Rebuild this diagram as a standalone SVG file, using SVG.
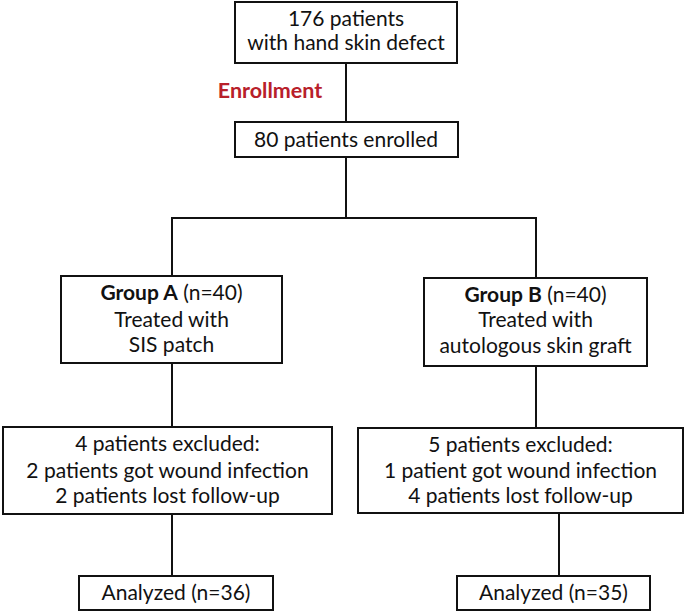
<svg xmlns="http://www.w3.org/2000/svg" width="685" height="612" viewBox="0 0 685 612">
<style>
.box{fill:#fff;stroke:#111;stroke-width:2}
.t{font-family:Lato,"Open Sans","Liberation Sans",sans-serif;font-size:21px;fill:#111;text-anchor:middle}
.b{font-weight:bold}
.red{font-family:Lato,"Open Sans","Liberation Sans",sans-serif;font-size:21.5px;font-weight:bold;fill:#B8202A;text-anchor:middle}
.c{stroke:#111;stroke-width:2;fill:none}
</style>
<rect width="685" height="612" fill="#fff"/>
<g id="connectors">
<path class="c" d="M346,63V122"/>
<path class="c" d="M346,157V218"/>
<path class="c" d="M172,218H536"/>
<path class="c" d="M172,217V276"/>
<path class="c" d="M536,217V278"/>
<path class="c" d="M172,363V427"/>
<path class="c" d="M536,366V428"/>
<path class="c" d="M172,514V576"/>
<path class="c" d="M559,513V576"/>
</g>
<g id="screened">
<rect class="box" x="235" y="2" width="222" height="61"/>
<text class="t" x="346" y="26">176 patients</text>
<text class="t" x="346" y="50">with hand skin defect</text>
</g>
<g id="enrollment-label">
<text class="red" x="270" y="98">Enrollment</text>
</g>
<g id="enrolled">
<rect class="box" x="235" y="122" width="223" height="35"/>
<text class="t" x="346" y="147">80 patients enrolled</text>
</g>
<g id="groupA">
<rect class="box" x="61" y="276" width="221" height="87"/>
<text class="t" x="171.5" y="300"><tspan class="b">Group A</tspan> (n=40)</text>
<text class="t" x="171.5" y="327">Treated with</text>
<text class="t" x="171.5" y="352">SIS patch</text>
</g>
<g id="groupB">
<rect class="box" x="424" y="278" width="223" height="88"/>
<text class="t" x="535.5" y="302"><tspan class="b">Group B</tspan> (n=40)</text>
<text class="t" x="535.5" y="327">Treated with</text>
<text class="t" x="535.5" y="353">autologous skin graft</text>
</g>
<g id="excludedA">
<rect class="box" x="3" y="427" width="329" height="87"/>
<text class="t" x="167.5" y="451">4 patients excluded:</text>
<text class="t" x="167.5" y="478">2 patients got wound infection</text>
<text class="t" x="167.5" y="503">2 patients lost follow-up</text>
</g>
<g id="excludedB">
<rect class="box" x="358" y="428" width="325" height="85"/>
<text class="t" x="520.5" y="452">5 patients excluded:</text>
<text class="t" x="520.5" y="478">1 patient got wound infection</text>
<text class="t" x="520.5" y="503">4 patients lost follow-up</text>
</g>
<g id="analyzedA">
<rect class="box" x="79" y="576" width="194" height="34"/>
<text class="t" x="176" y="600">Analyzed (n=36)</text>
</g>
<g id="analyzedB">
<rect class="box" x="457" y="576" width="193" height="34"/>
<text class="t" x="553.5" y="600">Analyzed (n=35)</text>
</g>
</svg>
